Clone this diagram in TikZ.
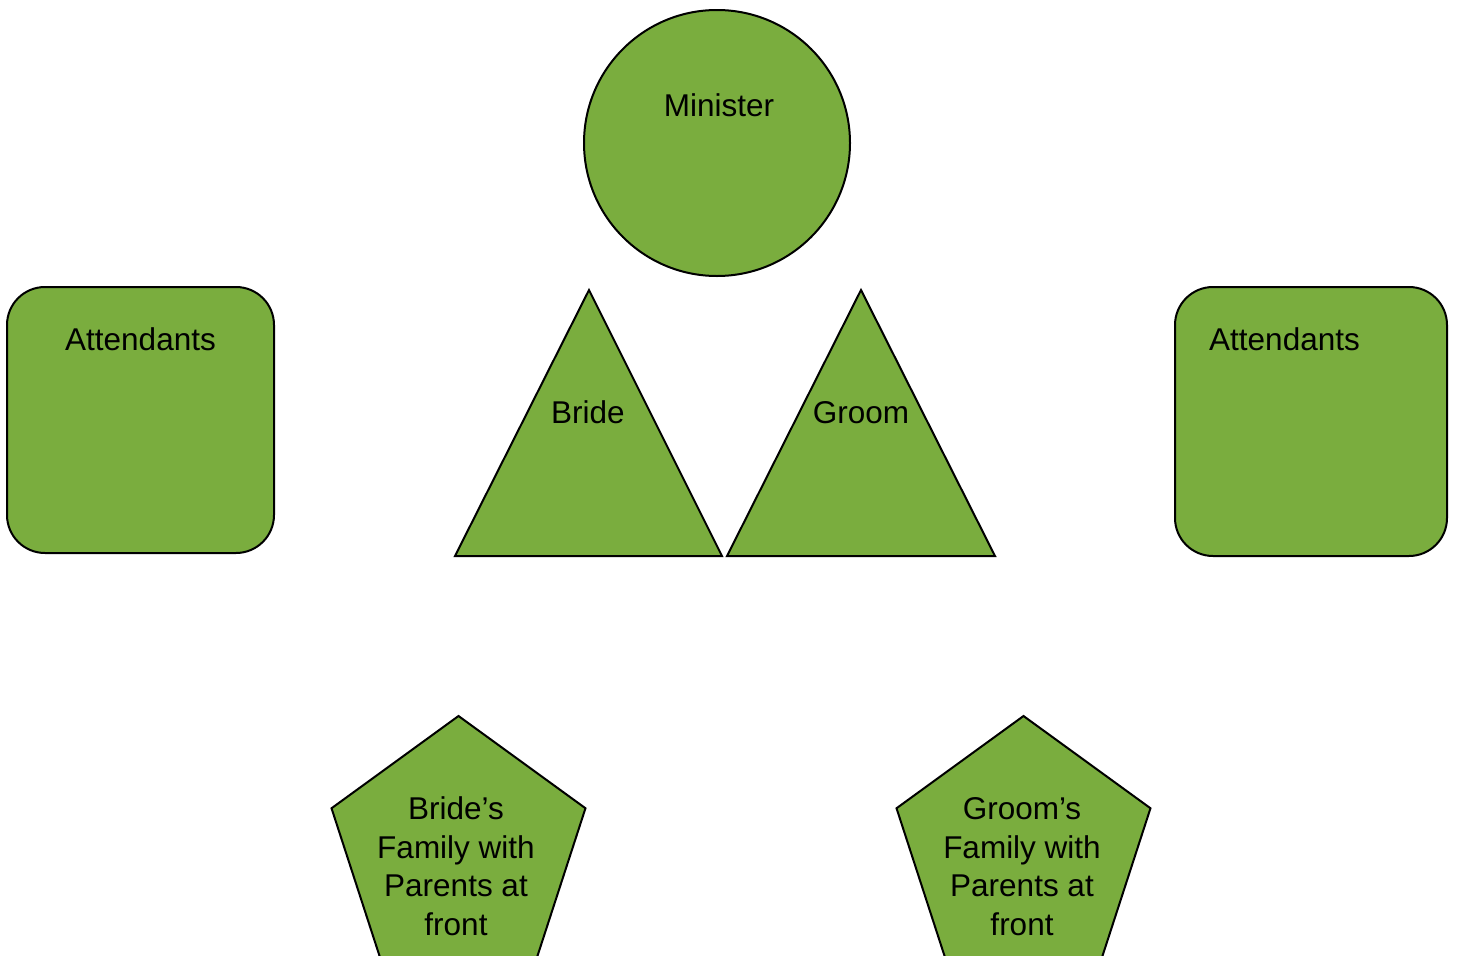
\documentclass[tikz,border=0pt]{standalone}
\usepackage{fontspec}
\setmainfont{Liberation Sans}
\usetikzlibrary{shapes.geometric}
\definecolor{leaf}{HTML}{7AAD3E}

\begin{document}
\begin{tikzpicture}[x=1pt,y=-1pt,
  every node/.style={font=\fontsize{31.5}{38.5}\selectfont},
  blob/.style={draw,fill=leaf,line width=2pt,inner sep=0pt},
  txt/.style={anchor=base,align=center}]
  \useasboundingbox (0,0) rectangle (1457,956);

  \node[blob,circle,minimum size=266pt]                    (minister) at (717,143)    {};
  \node[blob,rounded corners=38pt,minimum width=267pt,
        minimum height=266pt]                              (attL)     at (140.5,420)  {};
  \node[blob,rounded corners=38pt,minimum width=272pt,
        minimum height=269pt]                              (attR)     at (1311,421.5) {};
  \draw[blob] (455,556) -- (589,290) -- (722,556) -- cycle;
  \draw[blob] (727,556) -- (861,290) -- (995,556) -- cycle;
  \node[blob,regular polygon,regular polygon sides=5,
        minimum size=267pt]                                (famB)     at (458.5,849.5) {};
  \node[blob,regular polygon,regular polygon sides=5,
        minimum size=267pt]                                (famG)     at (1023.5,849.5) {};

  \node[txt] (ministerT) at (719,116)   {Minister};
  \node[txt] (attLT)     at (140.5,350) {Attendants};
  \node[txt] (attRT)     at (1284.5,350) {Attendants};
  \node[txt] (brideT)    at (588,423)   {Bride};
  \node[txt] (groomT)    at (861,423)   {Groom};
  % last line sits on the given base
  \node[txt] (famBT)     at (456,935)   {Bride’s\\Family with\\Parents at\\front};
  \node[txt] (famGT)     at (1022,935)  {Groom’s\\Family with\\Parents at\\front};
\end{tikzpicture}
\end{document}
